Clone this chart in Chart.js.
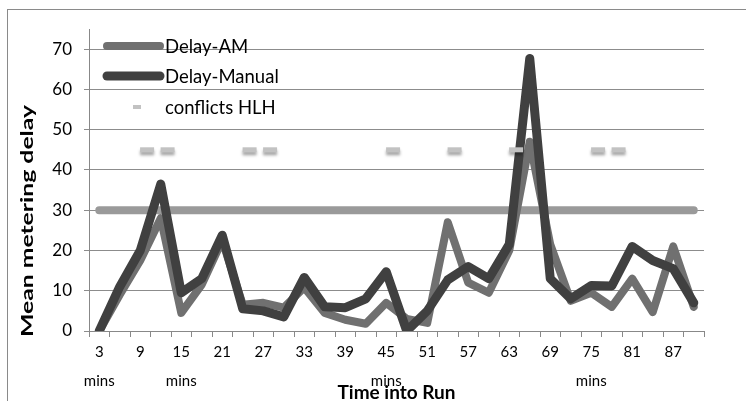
<!DOCTYPE html>
<html>
<head>
<meta charset="utf-8">
<script src="https://cdn.jsdelivr.net/npm/chart.js@4.4.0/dist/chart.umd.min.js"></script>
<style>
  body { margin: 0; background: #fff; }
  #wrap { position: relative; width: 746px; height: 401px; }
  #frame { position: absolute; left: 7px; top: 9px; right: -2px; bottom: -2px; border-top: 1px solid #8a8a8a; border-left: 1px solid #8a8a8a; }
</style>
</head>
<body>
<div id="wrap">
  <div id="frame"></div>
  <canvas id="myChart"></canvas>
</div>
<script>
// categories (minutes into run)
const minutes = [3, 6, 9, 12, 15, 18, 21, 24, 27, 30, 33, 36, 39, 42, 45, 48, 51, 54, 57, 60, 63, 66, 69, 72, 75, 78, 81, 84, 87, 90];
// tick labels that also carry the "mins" line
const minsShown = [3, 15, 45, 75];

// series values
const delayAM = [0, 9, 17.5, 28, 4.5, 11.5, 22.5, 6.5, 7, 5.8, 10.8, 4.5, 2.8, 1.8, 7, 3, 2, 27, 12, 9.5, 20, 47, 21.5, 7.5, 9.5, 6, 13, 4.7, 21, 6];
const delayManual = [0, 11, 20, 36.5, 9.5, 13, 23.8, 5.5, 5, 3.5, 13.3, 6, 5.8, 8, 14.7, 0, 5, 12.7, 16, 13, 21.5, 67.7, 13, 8, 11.3, 11.2, 21, 17.5, 15.5, 7];
const threshold = [30, 30, 30, 30, 30, 30, 30, 30, 30, 30, 30, 30, 30, 30, 30, 30, 30, 30, 30, 30, 30, 30, 30, 30, 30, 30, 30, 30, 30, 30];
const conflictTimes = [10, 13, 25, 28, 46, 55, 64, 76, 79];
const conflictLevel = [45, 45, 45, 45, 45, 45, 45, 45, 45];

const colAM = '#707070';
const colManual = '#404040';
const colFlat = '#9a9a9a';
const colConflict = '#c2c2c2';
const fontFam = 'Lato, "Open Sans", sans-serif';

Chart.defaults.font.family = fontFam;
Chart.defaults.color = '#000';

//shadow under the conflict dashes
const shadowPlugin = {
  id: 'shadow',
  beforeDatasetDraw(chart, args) {
    if (args.index !== 2) return;
    const c = chart.ctx;
    c.save();
    c.shadowColor = 'rgba(0,0,0,0.35)';
    c.shadowBlur = 3;
    c.shadowOffsetY = 3;
  },
  afterDatasetDraw(chart, args) {
    if (args.index === 2) chart.ctx.restore();
  }
};

//legend inside the plot (top left) + the tall y axis title
const extras = {
  id: 'extras',
  afterDraw(chart) {
    const c = chart.ctx;
    const x0 = chart.chartArea.left + 18;
    const rows = [
      {text: 'Delay-AM', color: colAM, width: 8, y: 46, from: x0, to: x0 + 53},
      {text: 'Delay-Manual', color: colManual, width: 9, y: 76, from: x0, to: x0 + 53},
      {text: 'conflicts HLH', color: colConflict, width: 4, y: 107, from: x0 + 26, to: x0 + 34}
    ];
    c.save();
    rows.forEach(r => {
      c.beginPath();
      c.lineCap = r.width > 5 ? 'round' : 'butt';
      c.lineWidth = r.width;
      c.strokeStyle = r.color;
      c.moveTo(r.from, r.y);
      c.lineTo(r.to, r.y);
      c.stroke();
      c.fillStyle = '#000';
      c.font = '18.5px ' + fontFam;
      c.textBaseline = 'middle';
      c.fillText(r.text, x0 + 58, r.y + 1);
    });
    c.restore();

    // y title, stretched along its length like the original
    const txt = 'Mean metering delay';
    c.save();
    c.font = 'bold 17px ' + fontFam;
    const w = c.measureText(txt).width;
    c.translate(28, 221);
    c.rotate(-Math.PI / 2);
    c.scale(232 / w, 1);
    c.textAlign = 'center';
    c.textBaseline = 'middle';
    c.fillStyle = '#000';
    c.fillText(txt, 0, 0);
    c.restore();
  }
};

const ctx = document.getElementById('myChart').getContext('2d');
const myChart = new Chart(ctx, {
  type: 'line',
  data: {
    labels: minutes.map(String),
    datasets: [{
      label: 'Delay-AM',
      data: delayAM,
      borderColor: colAM,
      borderWidth: 8,
      order: 2
    }, {
      label: 'Delay-Manual',
      data: delayManual,
      borderColor: colManual,
      borderWidth: 9,
      order: 1
    }, {
      label: 'conflicts HLH',
      type: 'scatter',
      xAxisID: 'x2',
      data: conflictTimes.map((t, i) => ({x: t, y: conflictLevel[i]})),
      pointStyle: 'line',
      pointRadius: 7,
      pointBorderWidth: 5,
      borderColor: colConflict,
      backgroundColor: colConflict,
      order: 0
    }, {
      label: 'threshold',
      data: threshold,
      borderColor: colFlat,
      borderWidth: 8,
      order: 3
    }]
  },
  options: {
    responsive: true,
    maintainAspectRatio: false,
    animation: false,
    layout: { padding: { left: 18, right: 42, top: 29, bottom: 0 } },
    elements: {
      point: { radius: 0, hoverRadius: 0 },
      line: { tension: 0, borderCapStyle: 'round', borderJoinStyle: 'round', fill: false }
    },
    plugins: {
      legend: { display: false },
      tooltip: { enabled: false }
    },
    scales: {
      x: {
        type: 'category',
        offset: true,
        grid: { offset: true, drawOnChartArea: false, tickLength: 6, color: '#888' },
        border: { color: '#888' },
        ticks: {
          autoSkip: false,
          maxRotation: 0,
          padding: 1,
          font: { size: 15, lineHeight: 1.93 },
          callback(value, index) {
            if (index % 2) return '';
            const m = minutes[index];
            return minsShown.includes(m) ? [String(m), 'mins'] : String(m);
          }
        },
        title: { display: true, text: 'Time into Run', font: { size: 19, weight: 'bold', lineHeight: 1 }, padding: { top: 0, bottom: -1 } },
        afterFit(s) { s.height = 70; }
      },
      x2: {
        type: 'linear',
        display: false,
        min: 1.5,
        max: 91.5
      },
      y: {
        min: 0,
        max: 75,
        ticks: { stepSize: 10, padding: 12, font: { size: 17 } },
        afterBuildTicks(s) { s.ticks = s.ticks.filter(t => t.value <= 70); },
        grid: { color: '#8c8c8c', tickLength: 5 },
        border: { color: '#888' },
        afterFit(s) { s.width = 71; }
      }
    }
  },
  plugins: [shadowPlugin, extras]
});
</script>
</body>
</html>
